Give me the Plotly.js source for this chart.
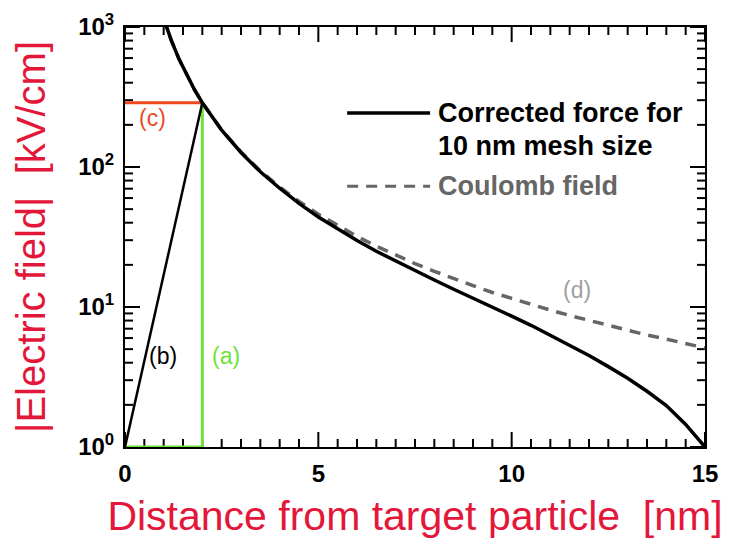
<!DOCTYPE html>
<html>
<head>
<meta charset="utf-8">
<script src="https://cdn.plot.ly/plotly-3.0.1.min.js"></script>
<style>
  html, body { margin: 0; padding: 0; background: #fff; }
  #chart { width: 732px; height: 543px; }
</style>
</head>
<body>
<div id="chart"></div>
<script>
// Distance from the target particle [nm]
const distance = [1.0, 1.08, 1.2, 1.4, 1.6, 1.8, 2.0, 2.5, 3.0, 3.5, 4.0, 4.5, 5.0, 5.5, 6.0, 6.5,
                  7.0, 7.5, 8.0, 8.5, 9.0, 9.5, 10.0, 10.5, 11.0, 11.5, 12.0, 12.5, 13.0, 13.5,
                  14.0, 14.5, 15.0];
// Plain Coulomb field [kV/cm]
const coulombField = [1150, 986, 799, 587, 449, 355, 288, 184, 128, 93.9, 71.9, 56.8, 46.0, 38.0,
                      31.9, 27.2, 23.5, 20.4, 18.0, 15.9, 14.2, 12.7, 11.5, 10.4, 9.5, 8.7, 8.0,
                      7.4, 6.8, 6.3, 5.9, 5.5, 5.1];
// Corrected force for a 10 nm mesh [kV/cm]
const correctedField = [1150, 986, 799, 587, 449, 355, 288, 183, 127, 92.5, 70.5, 55.0, 44.0, 36.0,
                        29.8, 25.0, 21.3, 18.2, 15.6, 13.4, 11.5, 10.0, 8.6, 7.4, 6.3, 5.35, 4.5,
                        3.75, 3.1, 2.5, 1.98, 1.45, 1.0];

// Construction lines: cut-off radius (a), linear ramp (b), field at cut-off (c)
const cutoffX = [0, 2, 2];
const cutoffY = [1, 1, 288];
const rampX = [0, 2];
const rampY = [1, 288];
const levelX = [0, 2];
const levelY = [288, 288];

const xTicks = [0, 5, 10, 15];
const xTickText = ['0', '5', '10', '15'];
const yTicks = [1, 10, 100, 1000];
const yTickText = ['10<sup>0</sup>', '10<sup>1</sup>', '10<sup>2</sup>', '10<sup>3</sup>'];

// minor tick positions: every 0.5 nm, and 2..9 within each decade
const xMinor = [];
for (let i = 1; i < 30; i++) if (i % 10 !== 0) xMinor.push(i * 0.5);
const yMinor = [];
for (let d = 1; d < 1000; d *= 10) {
  for (let m = 2; m <= 9; m++) yMinor.push(m * d);
}

// Plot-area geometry, used to turn tick lengths in pixels into axis units
const W = 732, H = 543, M = { l: 125, r: 27, t: 27, b: 96 };
const X_RANGE = [0, 15], LOG_RANGE = [0, 3];
const pxPerX = (W - M.l - M.r) / (X_RANGE[1] - X_RANGE[0]);
const pxPerDecade = (H - M.t - M.b) / (LOG_RANGE[1] - LOG_RANGE[0]);
const yMin = Math.pow(10, LOG_RANGE[0]), yMax = Math.pow(10, LOG_RANGE[1]);

// Inward tick marks on all four edges of the frame
const tickX = [], tickY = [];
function addSeg(x0, y0, x1, y1) { tickX.push(x0, x1, null); tickY.push(y0, y1, null); }
function xTick(v, len) {
  const f = Math.pow(10, len / pxPerDecade);
  addSeg(v, yMin, v, yMin * f);
  addSeg(v, yMax, v, yMax / f);
}
function yTick(v, len) {
  const dx = len / pxPerX;
  addSeg(X_RANGE[0], v, X_RANGE[0] + dx, v);
  addSeg(X_RANGE[1], v, X_RANGE[1] - dx, v);
}
xTicks.forEach(v => xTick(v, 15));
xMinor.forEach(v => xTick(v, 8));
yTicks.forEach(v => yTick(v, 15));
yMinor.forEach(v => yTick(v, 8));

const traces = [
  { x: tickX, y: tickY, mode: 'lines', line: { color: '#000', width: 2 }, connectgaps: false,
    hoverinfo: 'skip', cliponaxis: false },
  { x: cutoffX, y: cutoffY, mode: 'lines', line: { color: '#6fe23a', width: 3 }, hoverinfo: 'skip' },
  { x: levelX, y: levelY, mode: 'lines', line: { color: '#ec4a1c', width: 3 }, hoverinfo: 'skip' },
  { x: rampX, y: rampY, mode: 'lines', line: { color: '#000', width: 2.5 }, hoverinfo: 'skip' },
  { x: distance, y: coulombField, mode: 'lines',
    line: { color: '#666', width: 3.5, dash: '11px,8px' }, name: 'Coulomb field' },
  { x: distance, y: correctedField, mode: 'lines',
    line: { color: '#000', width: 3.5 }, name: 'Corrected force' }
];

const fam = 'Liberation Sans, Arial, sans-serif';
const tickFont = { family: fam, size: 24, color: '#000', weight: 'bold' };
const titleFont = { family: fam, size: 41, color: '#e3173a' };
const legendFont = { family: fam, size: 27, weight: 'bold' };
const noteFont = { family: fam, size: 23 };

const layout = {
  width: W, height: H,
  margin: M,
  paper_bgcolor: '#fff', plot_bgcolor: '#fff',
  showlegend: false,
  xaxis: {
    range: X_RANGE, tickmode: 'array', tickvals: xTicks, ticktext: xTickText,
    ticks: '', showline: true, linewidth: 2, linecolor: '#000', mirror: true,
    showgrid: false, zeroline: false, tickfont: tickFont, ticklabelstandoff: 4,
    title: { text: 'Distance from target particle  [nm]', font: titleFont, standoff: 16 }
  },
  yaxis: {
    type: 'log', range: LOG_RANGE, tickmode: 'array', tickvals: yTicks, ticktext: yTickText,
    ticks: '', showline: true, linewidth: 2, linecolor: '#000', mirror: true,
    showgrid: false, zeroline: false, tickfont: tickFont, ticklabelstandoff: 4,
    title: { text: '|Electric field|  [kV/cm]', font: Object.assign({}, titleFont, { size: 40 }), standoff: 20 }
  },
  shapes: [
    { type: 'line', xref: 'paper', yref: 'paper', x0: 0.383, x1: 0.526, y0: 0.795, y1: 0.795,
      line: { color: '#000', width: 3.5 } },
    { type: 'line', xref: 'paper', yref: 'paper', x0: 0.383, x1: 0.526, y0: 0.621, y1: 0.621,
      line: { color: '#666', width: 3, dash: '11px,8px' } }
  ],
  annotations: [
    { xref: 'paper', yref: 'paper', x: 0.536, y: 0.795, xanchor: 'left', yanchor: 'middle',
      text: 'Corrected force for', showarrow: false, font: Object.assign({ color: '#000' }, legendFont) },
    { xref: 'paper', yref: 'paper', x: 0.536, y: 0.717, xanchor: 'left', yanchor: 'middle',
      text: '10 nm mesh size', showarrow: false, font: Object.assign({ color: '#000' }, legendFont) },
    { xref: 'paper', yref: 'paper', x: 0.536, y: 0.621, xanchor: 'left', yanchor: 'middle',
      text: 'Coulomb field', showarrow: false, font: Object.assign({ color: '#666' }, legendFont) },
    { x: 0.72, y: 2.35, text: '(c)', showarrow: false, font: Object.assign({ color: '#ec4a1c' }, noteFont) },
    { x: 0.98, y: 0.65, text: '(b)', showarrow: false, font: Object.assign({ color: '#000' }, noteFont) },
    { x: 2.61, y: 0.65, text: '(a)', showarrow: false, font: Object.assign({ color: '#6fe23a' }, noteFont) },
    { x: 11.69, y: 1.12, text: '(d)', showarrow: false, font: Object.assign({ color: '#a0a0a0' }, noteFont) }
  ]
};

Plotly.newPlot('chart', traces, layout, { displayModeBar: false, staticPlot: true });
</script>
</body>
</html>
